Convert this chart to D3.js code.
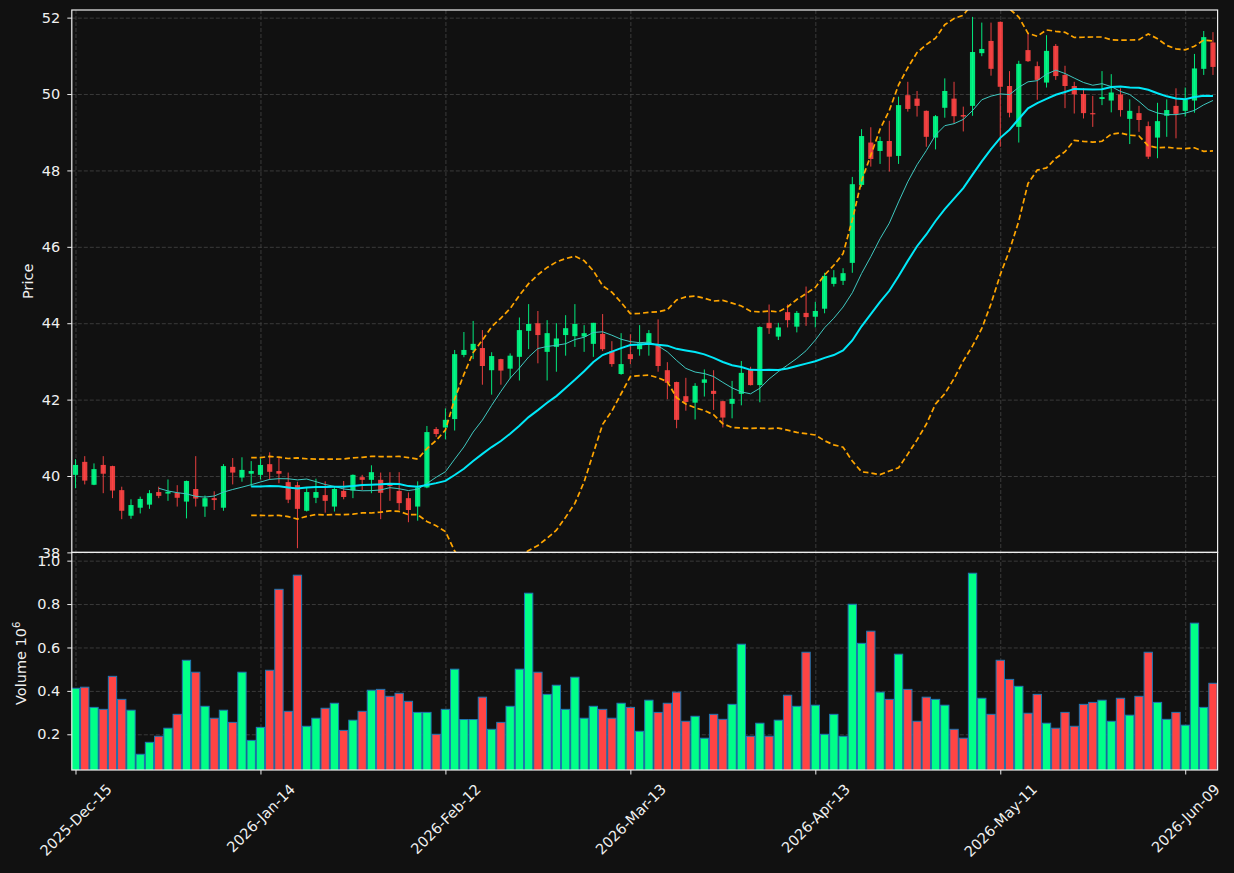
<!DOCTYPE html>
<html>
<head>
<meta charset="utf-8">
<script src="https://cdn.jsdelivr.net/npm/d3@7"></script>
<style>
  html, body { margin: 0; padding: 0; background: #111111; }
  svg { display: block; }
  text { font-family: "DejaVu Sans", sans-serif; }
</style>
</head>
<body>
<div id="chart"></div>
<script>
// daily bars (price in $, volume in millions)
const OPEN = [
  40.03, 40.37, 39.77, 40.29, 40.26, 39.63, 38.96, 39.17, 39.25, 39.58,
  39.54, 39.56, 39.33, 39.66, 39.20, 39.42, 39.17, 40.24, 39.96, 40.06,
  40.03, 40.31, 40.13, 39.84, 39.76, 39.09, 39.43, 39.50, 39.20, 39.61,
  39.62, 39.97, 39.90, 39.90, 39.78, 39.61, 39.42, 39.20, 39.70, 41.23,
  41.27, 41.49, 43.17, 43.30, 43.35, 42.77, 43.06, 42.81, 43.12, 43.80,
  44.00, 43.25, 43.38, 43.69, 43.66, 43.65, 43.46, 43.72, 43.27, 42.67,
  43.19, 43.32, 43.46, 43.41, 42.77, 42.46, 42.09, 41.92, 42.44, 42.23,
  41.96, 41.89, 42.15, 42.79, 42.38, 44.01, 43.65, 44.29, 43.91, 44.27,
  44.17, 44.38, 45.03, 45.11, 45.58, 47.62, 48.73, 48.51, 48.77, 48.38,
  49.97, 49.88, 49.56, 48.86, 49.64, 49.88, 49.45, 49.69, 51.07, 51.39,
  51.89, 50.21, 49.14, 51.15, 50.73, 50.30, 51.26, 50.50, 50.21, 50.00,
  49.50, 49.87, 49.83, 49.99, 49.35, 49.50, 49.16, 48.86, 49.43, 49.69,
  49.56, 49.83, 50.66, 51.35
];
const HIGH = [
  40.44, 40.52, 40.33, 40.52, 40.27, 39.72, 39.39, 39.46, 39.63, 39.72,
  39.91, 39.76, 39.88, 40.52, 39.49, 39.60, 40.31, 40.47, 40.49, 40.39,
  40.46, 40.62, 40.48, 40.09, 39.85, 39.70, 39.93, 39.86, 39.72, 39.87,
  40.04, 40.03, 40.28, 40.09, 40.10, 40.10, 39.57, 39.86, 41.31, 41.28,
  41.77, 43.30, 43.77, 44.06, 43.82, 43.24, 43.07, 43.21, 44.15, 44.50,
  44.32, 44.08, 44.00, 44.21, 44.50, 43.95, 44.01, 44.24, 43.53, 43.74,
  43.71, 43.95, 43.82, 44.10, 42.98, 42.47, 42.57, 42.43, 42.79, 42.77,
  41.97, 42.49, 43.01, 42.86, 43.92, 44.49, 44.01, 44.49, 44.32, 44.96,
  44.56, 45.32, 45.39, 45.44, 47.83, 49.08, 49.13, 48.88, 49.30, 49.93,
  50.32, 50.08, 49.57, 49.45, 50.41, 50.32, 49.67, 52.02, 51.87, 51.87,
  51.90, 50.60, 50.87, 51.59, 50.85, 51.54, 51.31, 50.74, 50.32, 50.15,
  49.95, 50.60, 50.52, 50.15, 49.86, 49.69, 49.28, 49.77, 49.86, 50.15,
  50.17, 51.05, 51.65, 51.62
];
const LOW = [
  39.68, 39.78, 39.76, 39.55, 39.42, 38.87, 38.88, 39.02, 39.14, 39.42,
  39.35, 39.20, 38.89, 39.20, 38.93, 39.11, 39.09, 39.78, 39.85, 39.72,
  39.91, 39.90, 39.81, 39.29, 38.11, 39.07, 39.29, 39.04, 39.07, 39.39,
  39.42, 39.63, 39.55, 38.87, 39.35, 39.11, 38.79, 38.83, 39.68, 41.02,
  40.96, 41.19, 43.11, 43.06, 42.39, 42.13, 42.39, 42.55, 42.50, 43.32,
  42.95, 42.50, 42.73, 43.15, 43.38, 43.25, 43.12, 43.27, 42.86, 42.65,
  42.93, 43.15, 43.15, 42.73, 42.01, 41.25, 41.71, 41.48, 42.08, 41.73,
  41.27, 41.51, 41.85, 42.37, 41.93, 43.72, 43.56, 43.89, 43.76, 43.93,
  43.89, 44.26, 44.96, 45.00, 45.32, 47.57, 48.10, 48.17, 47.97, 48.17,
  49.54, 49.41, 48.62, 48.55, 49.38, 49.23, 49.02, 49.43, 50.99, 50.48,
  48.62, 49.39, 48.73, 50.84, 49.85, 50.17, 50.37, 49.63, 49.49, 49.36,
  49.14, 49.71, 49.52, 49.41, 48.69, 49.01, 48.30, 48.32, 48.88, 48.84,
  49.41, 49.51, 50.50, 50.50
];
const CLOSE = [
  40.29, 39.88, 40.18, 40.06, 39.62, 39.09, 39.24, 39.40, 39.55, 39.48,
  39.59, 39.43, 39.87, 39.41, 39.42, 39.37, 40.26, 40.09, 40.16, 40.13,
  40.29, 40.11, 40.06, 39.38, 39.14, 39.58, 39.58, 39.35, 39.66, 39.45,
  40.03, 39.90, 40.10, 39.56, 39.74, 39.29, 39.11, 39.70, 41.15, 41.10,
  41.47, 43.19, 43.30, 43.46, 42.88, 43.14, 42.76, 43.15, 43.82, 43.98,
  43.69, 43.74, 43.60, 43.87, 43.98, 43.74, 44.01, 43.32, 42.93, 42.93,
  43.06, 43.47, 43.74, 42.88, 42.44, 41.47, 41.94, 42.36, 42.53, 42.15,
  41.53, 42.02, 42.70, 42.38, 43.90, 43.87, 43.89, 44.08, 44.27, 44.16,
  44.32, 45.24, 45.20, 45.31, 47.64, 48.90, 48.30, 48.77, 48.36, 49.71,
  49.61, 49.69, 48.88, 49.42, 50.08, 49.42, 49.41, 51.10, 51.18, 50.66,
  50.19, 49.51, 50.79, 50.86, 50.37, 51.13, 50.47, 50.21, 49.99, 49.50,
  49.47, 49.92, 50.04, 49.58, 49.56, 49.32, 48.36, 49.29, 49.58, 49.48,
  49.85, 50.67, 51.49, 50.71
];
const VOLUME = [
  0.412, 0.417, 0.324, 0.315, 0.467, 0.361, 0.311, 0.108, 0.163, 0.191,
  0.228, 0.292, 0.541, 0.486, 0.329, 0.274, 0.311, 0.255, 0.486, 0.172,
  0.232, 0.495, 0.868, 0.306, 0.933, 0.237, 0.274, 0.320, 0.343, 0.218,
  0.265, 0.306, 0.403, 0.407, 0.375, 0.389, 0.352, 0.301, 0.301, 0.200,
  0.315, 0.500, 0.268, 0.268, 0.371, 0.223, 0.255, 0.329, 0.500, 0.850,
  0.486, 0.384, 0.426, 0.315, 0.463, 0.274, 0.329, 0.315, 0.274, 0.343,
  0.324, 0.214, 0.357, 0.301, 0.343, 0.394, 0.260, 0.283, 0.182, 0.292,
  0.269, 0.338, 0.615, 0.191, 0.251, 0.191, 0.265, 0.380, 0.329, 0.578,
  0.334, 0.200, 0.292, 0.191, 0.799, 0.619, 0.675, 0.394, 0.361, 0.569,
  0.407, 0.260, 0.371, 0.361, 0.334, 0.223, 0.182, 0.942, 0.366, 0.292,
  0.541, 0.453, 0.421, 0.297, 0.384, 0.251, 0.228, 0.301, 0.237, 0.338,
  0.347, 0.357, 0.260, 0.366, 0.288, 0.375, 0.578, 0.347, 0.269, 0.301,
  0.242, 0.712, 0.324, 0.435
];

// trading calendar (weekdays minus market holidays)
const START_DATE = "2025-12-15";
const HOLIDAYS = ["2025-12-25", "2026-01-01", "2026-01-19", "2026-02-16", "2026-04-03", "2026-05-25"];
const X_TICK_EVERY = 20;
const PRICE_TICKS = [38, 40, 42, 44, 46, 48, 50, 52];
const VOLUME_TICKS = [0.2, 0.4, 0.6, 0.8, 1.0];
const MA_SHORT = 10;
const MA_LONG = 20;
const BAND_K = 2;

const WIDTH = 1234;
const HEIGHT = 873;
const BOX = { LEFT: 71.8, RIGHT: 1217.6, TOP: 10, SPLIT: 552.4, BOTTOM: 770 };
const FONT = 14.5;
const COLOR = {
  bg: "#111111", up: "#00ff88", down: "#ff4444", grid: "#454545",
  spine: "#eeeeee", text: "#f0f0f0", maShort: "#3fc8c0", maLong: "#00e8f8",
  band: "#ffa500", volEdge: "#1f77b4"
};

const fmtKey = d3.utcFormat("%Y-%m-%d");
const fmtTick = d3.utcFormat("%Y-%b-%d");

function tradingDays(start, count) {
  const out = [];
  let d = d3.utcParse("%Y-%m-%d")(start);
  while (out.length < count) {
    const wd = d.getUTCDay();
    if (wd !== 0 && wd !== 6 && !HOLIDAYS.includes(fmtKey(d))) out.push(d);
    d = d3.utcDay.offset(d, 1);
  }
  return out;
}

function rolling(values, n, fn) {
  return values.map((v, i) => i < n - 1 ? null : fn(values.slice(i - n + 1, i + 1)));
}

const N = CLOSE.length;
const dates = tradingDays(START_DATE, N);
const bars = d3.range(N).map(i => ({
  i, o: OPEN[i], h: HIGH[i], l: LOW[i], c: CLOSE[i], v: VOLUME[i], up: CLOSE[i] >= OPEN[i]
}));

const maShort = rolling(CLOSE, MA_SHORT, d3.mean);
const maLong = rolling(CLOSE, MA_LONG, d3.mean);
const sd = rolling(CLOSE, MA_LONG, d3.deviation);
const upper = maLong.map((m, i) => m == null ? null : m + BAND_K * sd[i]);
const lower = maLong.map((m, i) => m == null ? null : m - BAND_K * sd[i]);

const x = d3.scaleLinear()
  .domain([-0.4, N - 0.5])
  .range([BOX.LEFT, BOX.RIGHT]);
const step = x(1) - x(0);

const y = d3.scaleLinear()
  .domain([38, 52.2])
  .range([BOX.SPLIT, BOX.TOP]);

const yVol = d3.scaleLinear()
  .domain([0.0355, 1.038])
  .range([BOX.BOTTOM, BOX.SPLIT]);

const svg = d3.select("#chart")
  .append("svg")
    .attr("width", WIDTH)
    .attr("height", HEIGHT);

svg.append("rect")
  .attr("width", WIDTH)
  .attr("height", HEIGHT)
  .attr("fill", COLOR.bg);

const defs = svg.append("defs");
defs.append("clipPath").attr("id", "clip-price")
  .append("rect")
    .attr("x", BOX.LEFT).attr("y", BOX.TOP)
    .attr("width", BOX.RIGHT - BOX.LEFT).attr("height", BOX.SPLIT - BOX.TOP);
defs.append("clipPath").attr("id", "clip-vol")
  .append("rect")
    .attr("x", BOX.LEFT).attr("y", BOX.SPLIT)
    .attr("width", BOX.RIGHT - BOX.LEFT).attr("height", BOX.BOTTOM - BOX.SPLIT);

// grid
function styleGrid(g) {
  g.select(".domain").remove();
  g.selectAll("line")
    .attr("stroke", COLOR.grid)
    .attr("stroke-width", 0.8)
    .attr("stroke-dasharray", "4,2");
}
const xTicks = d3.range(0, N, X_TICK_EVERY);

svg.append("g")
  .attr("transform", `translate(${BOX.LEFT},0)`)
  .call(d3.axisLeft(y).tickValues(PRICE_TICKS).tickSize(-(BOX.RIGHT - BOX.LEFT)).tickFormat(""))
  .call(styleGrid);
svg.append("g")
  .attr("transform", `translate(${BOX.LEFT},0)`)
  .call(d3.axisLeft(yVol).tickValues(VOLUME_TICKS).tickSize(-(BOX.RIGHT - BOX.LEFT)).tickFormat(""))
  .call(styleGrid);
svg.append("g")
  .attr("transform", `translate(0,${BOX.BOTTOM})`)
  .call(d3.axisBottom(x).tickValues(xTicks).tickSize(-(BOX.BOTTOM - BOX.TOP)).tickFormat(""))
  .call(styleGrid);

// volume
svg.append("g")
  .attr("clip-path", "url(#clip-vol)")
  .selectAll("rect")
  .data(bars)
  .enter()
  .append("rect")
    .attr("x", d => x(d.i) - step * 0.45)
    .attr("width", step * 0.9)
    .attr("y", d => yVol(d.v))
    .attr("height", d => BOX.BOTTOM + 2 - yVol(d.v))
    .attr("fill", d => d.up ? COLOR.up : COLOR.down)
    .attr("stroke", COLOR.volEdge)
    .attr("stroke-width", 1);

// candles
const candles = svg.append("g").attr("clip-path", "url(#clip-price)");
candles.selectAll("line")
  .data(bars)
  .enter()
  .append("line")
    .attr("x1", d => x(d.i))
    .attr("x2", d => x(d.i))
    .attr("y1", d => y(d.h))
    .attr("y2", d => y(d.l))
    .attr("stroke", d => d.up ? COLOR.up : COLOR.down)
    .attr("stroke-opacity", 0.9)
    .attr("stroke-width", 1);
candles.selectAll("rect")
  .data(bars)
  .enter()
  .append("rect")
    .attr("x", d => x(d.i) - step * 0.28)
    .attr("width", step * 0.56)
    .attr("y", d => y(Math.max(d.o, d.c)))
    .attr("height", d => Math.max(1.2, Math.abs(y(d.o) - y(d.c))))
    .attr("fill", d => d.up ? COLOR.up : COLOR.down)
    .attr("fill-opacity", 0.9);

// moving averages and bands
const line = d3.line()
  .defined(d => d[1] != null)
  .x(d => x(d[0]))
  .y(d => y(d[1]));
const series = arr => arr.map((v, i) => [i, v]);
const overlays = svg.append("g").attr("clip-path", "url(#clip-price)");

overlays.append("path")
  .attr("d", line(series(upper)))
  .attr("fill", "none").attr("stroke", COLOR.band)
  .attr("stroke-width", 1.7).attr("stroke-dasharray", "5.5,3");
overlays.append("path")
  .attr("d", line(series(lower)))
  .attr("fill", "none").attr("stroke", COLOR.band)
  .attr("stroke-width", 1.7).attr("stroke-dasharray", "5.5,3");
overlays.append("path")
  .attr("d", line(series(maShort)))
  .attr("fill", "none").attr("stroke", COLOR.maShort)
  .attr("stroke-width", 1);
overlays.append("path")
  .attr("d", line(series(maLong)))
  .attr("fill", "none").attr("stroke", COLOR.maLong)
  .attr("stroke-width", 2);

// spines
[[BOX.TOP, BOX.SPLIT], [BOX.SPLIT, BOX.BOTTOM]].forEach(([t, b]) => {
  svg.append("rect")
    .attr("x", BOX.LEFT).attr("y", t)
    .attr("width", BOX.RIGHT - BOX.LEFT).attr("height", b - t)
    .attr("fill", "none")
    .attr("stroke", COLOR.spine)
    .attr("stroke-width", 1.2);
});

// axes
function styleAxis(g) {
  g.select(".domain").remove();
  g.selectAll("line").attr("stroke", COLOR.spine).attr("stroke-width", 1);
  g.selectAll("text")
    .attr("fill", COLOR.text)
    .style("font-size", FONT + "px")
    .style("font-family", "'DejaVu Sans', sans-serif");
}

svg.append("g")
  .attr("transform", `translate(${BOX.LEFT},0)`)
  .call(d3.axisLeft(y).tickValues(PRICE_TICKS).tickSize(4.5).tickPadding(7).tickFormat(d3.format("d")))
  .call(styleAxis);

svg.append("g")
  .attr("transform", `translate(${BOX.LEFT},0)`)
  .call(d3.axisLeft(yVol).tickValues(VOLUME_TICKS).tickSize(4.5).tickPadding(7).tickFormat(d3.format(".1f")))
  .call(styleAxis);

const xAxisGroup = svg.append("g")
  .attr("transform", `translate(0,${BOX.BOTTOM})`)
  .call(d3.axisBottom(x).tickValues(xTicks).tickSize(4.5).tickFormat(i => fmtTick(dates[i])))
  .call(styleAxis);

xAxisGroup.selectAll("text")
  .attr("y", null)
  .attr("dy", null)
  .attr("text-anchor", "middle")
  .attr("dominant-baseline", "central")
  .attr("transform", function() {
    const w = this.getComputedTextLength();
    const ext = (w + 0.73 * FONT) * Math.SQRT1_2;
    return `translate(0,${13 + ext / 2}) rotate(-45)`;
  });

// axis titles
svg.append("text")
  .attr("transform", `translate(33,${(BOX.TOP + BOX.SPLIT) / 2}) rotate(-90)`)
  .attr("text-anchor", "middle")
  .attr("fill", COLOR.text)
  .style("font-size", FONT + "px")
  .text("Price");

const volTitle = svg.append("text")
  .attr("transform", `translate(25.5,${(BOX.SPLIT + BOX.BOTTOM) / 2 + 2}) rotate(-90)`)
  .attr("text-anchor", "middle")
  .attr("fill", COLOR.text)
  .style("font-size", FONT + "px");
volTitle.append("tspan").text("Volume  10");
volTitle.append("tspan")
  .attr("dy", -6)
  .style("font-size", (FONT * 0.7) + "px")
  .text("6");
</script>
</body>
</html>
